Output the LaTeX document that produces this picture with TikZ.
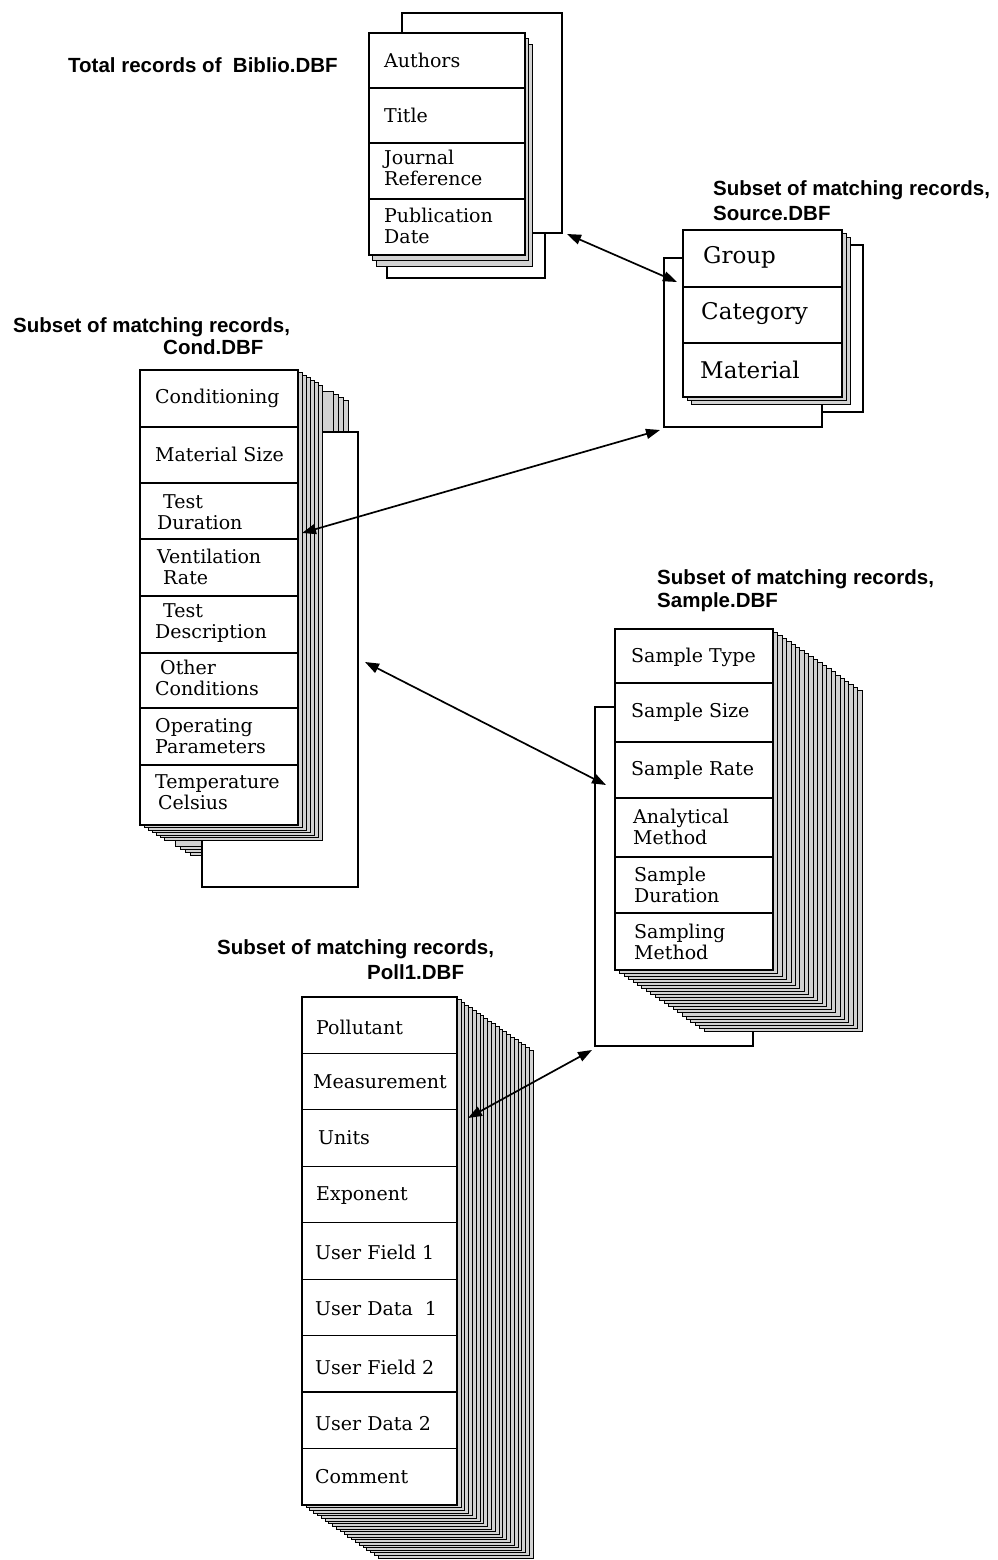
\documentclass[tikz,border=0pt]{standalone}
\usepackage{fontspec}
\setmainfont{DejaVu Serif}
\newfontfamily\lblfont{Liberation Sans}
\usetikzlibrary{arrows.meta}
\tikzset{
  card/.style={draw=black, fill=white, line width=1.3pt},
  backcard/.style={draw=black, fill=white, line width=1.2pt},
  fancard/.style={draw=black, fill=gray!35, line width=0.5pt},
  divider/.style={draw=black, line width=1.2pt},
  field/.style={anchor=west, inner sep=0pt, align=left, font=\fontsize{19}{20.5}\selectfont},
  bigfield/.style={anchor=west, inner sep=0pt, align=left, font=\fontsize{23}{25}\selectfont},
  lbl/.style={anchor=base west, inner sep=0pt, font=\lblfont\bfseries\fontsize{20.5}{24}\selectfont},
  link/.style={{Triangle[length=14pt,width=10pt]}-{Triangle[length=14pt,width=10pt]}, line width=1.7pt},
}
% fan of cards: x1 y1 x2 y2 dx dy ifirst ilast (drawn back to front)
\newcommand\fancards[8]{%
  \foreach \i in {#8,...,#7}{%
    \draw[fancard] ({#1+\i*#5},{#2+\i*#6}) rectangle ({#3+\i*#5},{#4+\i*#6});}}
\begin{document}
\begin{tikzpicture}[x=1pt,y=-1pt]
\useasboundingbox (0,0) rectangle (997,1560);
\fill[white] (0,0) rectangle (997,1560);

% ---------------- Biblio.DBF ----------------
\draw[backcard] (387,60) rectangle (545,278);
\draw[backcard] (402,13) rectangle (562,233);
\fancards{369}{33}{525}{255}{3.5}{5.5}{1}{2}
\draw[card] (369,33) rectangle (525,255);
\foreach \yy in {88,143,199} \draw[divider] (369,\yy) -- (525,\yy);
\node[field] (b1) at (384,60) {Authors};
\node[field] (b2) at (384,115) {Title};
\node[field] (b3) at (384,168) {Journal\\Reference};
\node[field] (b4) at (384,226) {Publication\\Date};
\node[lbl] (lb) at (68,73) {Total records of\ \ Biblio.DBF};

% ---------------- Source.DBF ----------------
\draw[backcard] (700,245) rectangle (863,412);
\draw[backcard] (664,258) rectangle (822,427);
\fancards{683}{230}{842}{397}{4}{3.5}{1}{2}
\draw[card] (683,230) rectangle (842,397);
\foreach \yy in {287,343} \draw[divider] (683,\yy) -- (842,\yy);
\node[bigfield] (s1) at (703,257) {Group};
\node[bigfield] (s2) at (701,314) {Category};
\node[bigfield] (s3) at (700,370) {Material};
\node[lbl] (ls1) at (713,195) {Subset of matching records,};
\node[lbl] (ls2) at (713,220) {Source.DBF};

% ---------------- Cond.DBF ----------------
\fancards{140}{370}{298}{825}{5}{3}{7}{10}
\draw[backcard] (202,432) rectangle (358,887);
\fancards{140}{370}{298}{825}{4}{2.5}{1}{6}
\draw[card] (140,370) rectangle (298,825);
\foreach \yy in {427,483,539,596,653,708,765} \draw[divider] (140,\yy) -- (298,\yy);
\node[field] (c1) at (155,398) {Conditioning};
\node[field] (c2) at (155,454) {Material Size};
\node[field] (c3) at (157,512) {\hspace*{6pt}Test\\Duration};
\node[field] (c4) at (157,567) {Ventilation\\\hspace*{6pt}Rate};
\node[field] (c5) at (155,623) {\hspace*{8pt}Test\\Description};
\node[field] (c6) at (155,678) {\hspace*{5pt}Other\\Conditions};
\node[field] (c7) at (155,736) {Operating\\Parameters};
\node[field] (c8) at (155,792) {Temperature\\\hspace*{3pt}Celsius};
\node[lbl] (lc1) at (13,332) {Subset of matching records,};
\node[lbl] (lc2) at (163,354) {Cond.DBF};

% ---------------- Sample.DBF ----------------
\draw[backcard] (595,707) rectangle (753,1046);
\fancards{615}{629}{773}{970}{4.45}{3.05}{1}{20}
\draw[card] (615,629) rectangle (773,970);
\foreach \yy in {683,742,798,857,913} \draw[divider] (615,\yy) -- (773,\yy);
\node[field] (sa1) at (631,657) {Sample Type};
\node[field] (sa2) at (631,712) {Sample Size};
\node[field] (sa3) at (631,770) {Sample Rate};
\node[field] (sa4) at (633,827) {Analytical\\Method};
\node[field] (sa5) at (634,885) {Sample\\Duration};
\node[field] (sa6) at (634,942) {Sampling\\Method};
\node[lbl] (lsa1) at (657,584) {Subset of matching records,};
\node[lbl] (lsa2) at (657,607) {Sample.DBF};

% ---------------- Poll1.DBF ----------------
\fancards{302}{997}{457}{1505}{3.8}{2.65}{1}{20}
\draw[card] (302,997) rectangle (457,1505);
\foreach \k in {1,...,8} \draw[divider] (302,{997+\k*56.44}) -- (457,{997+\k*56.44});
\node[field] (p1) at (316,1027) {Pollutant};
\node[field] (p2) at (313,1082) {Measurement};
\node[field] (p3) at (318,1138) {Units};
\node[field] (p4) at (316,1196) {Exponent};
\node[field] (p5) at (315,1252) {User Field 1};
\node[field] (p6) at (315,1309) {User Data\ \ 1};
\node[field] (p7) at (315,1367) {User Field 2};
\node[field] (p8) at (315,1424) {User Data 2};
\node[field] (p9) at (315,1477) {Comment};
\node[lbl] (lp1) at (217,954) {Subset of matching records,};
\node[lbl] (lp2) at (367,979) {Poll1.DBF};

% ---------------- links ----------------
\coordinate (bS) at (567,234);  \coordinate (sB) at (677,282);
\coordinate (cS) at (302,533);  \coordinate (sC) at (660,430);
\coordinate (cSa) at (365,662); \coordinate (saC) at (606,785);
\coordinate (pSa) at (468,1118); \coordinate (saP) at (592,1050);
\draw[link] (bS) -- (sB);
\draw[link] (cS) -- (sC);
\draw[link] (cSa) -- (saC);
\draw[link] (pSa) -- (saP);
\end{tikzpicture}
\end{document}
